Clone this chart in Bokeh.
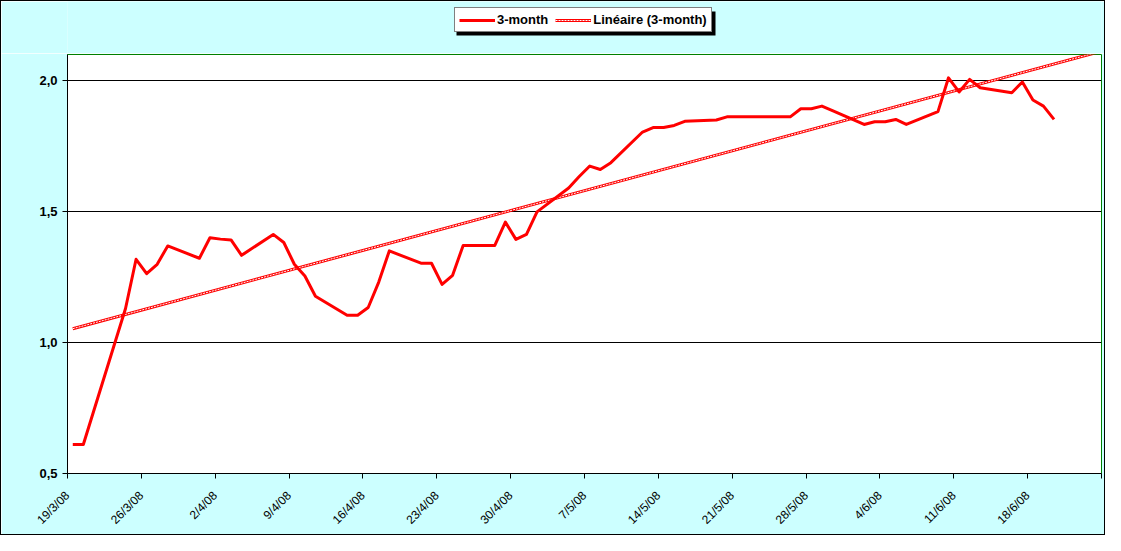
import pandas as pd
from bokeh.plotting import figure
from bokeh.layouts import column
from bokeh.models import Range1d, FixedTicker, Legend, LegendItem, ColumnDataSource, BoxAnnotation
from bokeh.embed import file_html
from bokeh.resources import INLINE

# ---------------- data ----------------
dates = [
    "2008-03-19", "2008-03-20", "2008-03-24", "2008-03-25", "2008-03-26", "2008-03-27",
    "2008-03-28", "2008-03-31", "2008-04-01", "2008-04-02", "2008-04-03", "2008-04-04",
    "2008-04-07", "2008-04-08", "2008-04-09", "2008-04-10", "2008-04-11", "2008-04-14",
    "2008-04-15", "2008-04-16", "2008-04-17", "2008-04-18", "2008-04-21", "2008-04-22",
    "2008-04-23", "2008-04-24", "2008-04-25", "2008-04-28", "2008-04-29", "2008-04-30",
    "2008-05-01", "2008-05-02", "2008-05-05", "2008-05-06", "2008-05-07", "2008-05-08",
    "2008-05-09", "2008-05-12", "2008-05-13", "2008-05-14", "2008-05-15", "2008-05-16",
    "2008-05-19", "2008-05-20", "2008-05-21", "2008-05-22", "2008-05-23", "2008-05-26",
    "2008-05-27", "2008-05-28", "2008-05-29", "2008-05-30", "2008-06-02", "2008-06-03",
    "2008-06-04", "2008-06-05", "2008-06-06", "2008-06-09", "2008-06-10", "2008-06-11",
    "2008-06-12", "2008-06-13", "2008-06-16", "2008-06-17", "2008-06-18", "2008-06-19",
    "2008-06-20",
]
values_3m = [
    0.611, 0.611, 1.130, 1.318, 1.263, 1.299,
    1.369, 1.322, 1.400, 1.395, 1.392, 1.333,
    1.413, 1.382, 1.299, 1.254, 1.177, 1.104,
    1.104, 1.134, 1.231, 1.350, 1.303, 1.303,
    1.222, 1.257, 1.371, 1.371, 1.460, 1.394,
    1.413, 1.499, 1.590, 1.634, 1.674, 1.661,
    1.687, 1.804, 1.821, 1.821, 1.829, 1.845,
    1.850, 1.862, 1.862, 1.862, 1.862, 1.862,
    1.893, 1.893, 1.903, 1.886, 1.833, 1.843,
    1.843, 1.852, 1.833, 1.882, 2.011, 1.957,
    2.005, 1.973, 1.954, 1.995, 1.926, 1.903,
    1.852,
]
trend_dates = ["2008-03-19", "2008-06-25"]
trend_values = [1.053, 2.118]

x_tick_dates = [
    "2008-03-19", "2008-03-26", "2008-04-02", "2008-04-09", "2008-04-16",
    "2008-04-23", "2008-04-30", "2008-05-07", "2008-05-14", "2008-05-21",
    "2008-05-28", "2008-06-04", "2008-06-11", "2008-06-18", "2008-06-25",
]
x_tick_labels = [
    "19/3/08", "26/3/08", "2/4/08", "9/4/08", "16/4/08",
    "23/4/08", "30/4/08", "7/5/08", "14/5/08", "21/5/08",
    "28/5/08", "4/6/08", "11/6/08", "18/6/08", "",
]
y_ticks = [0.5, 1.0, 1.5, 2.0]
y_tick_labels = ["0,5", "1,0", "1,5", "2,0"]
y_grid = [1.0, 1.5, 2.0]
series_name = "3-month"
trend_name = "Linéaire (3-month)"

# ---------------- styles ----------------
FONT = "Liberation Sans"
BG = "#CCFFFF"
RED = "#FF0000"
half_day = pd.Timedelta(hours=12)  # Excel date axis: points sit mid-day between ticks


def add_series(fig, src, tsrc):
    r1 = fig.line("x", "y", source=tsrc, line_color=RED, line_width=3)
    r2 = fig.line("x", "y", source=tsrc, line_color="white", line_width=1, line_dash="2 1")
    r3 = fig.line("x", "y", source=src, line_color=RED, line_width=3, line_join="round")
    return r3, r1, r2


src = ColumnDataSource(dict(x=pd.to_datetime(dates) + half_day, y=values_3m))
tsrc = ColumnDataSource(dict(x=pd.to_datetime(trend_dates) + half_day, y=trend_values))

# ---------------- main chart ----------------
p = figure(
    width=1103, height=481, x_axis_type="datetime",
    output_backend="svg", toolbar_location=None,
    x_range=Range1d(pd.Timestamp(x_tick_dates[0]), pd.Timestamp(x_tick_dates[-1])),
    y_range=Range1d(0.5, 2.1),
    min_border_left=66, min_border_right=3, min_border_top=1, min_border_bottom=60,
)
p.border_fill_color = BG
p.background_fill_color = "white"
p.outline_line_color = "#008000"
p.outline_line_width = 1

tick_ms = [pd.Timestamp(d).value / 1e6 for d in x_tick_dates]
p.xaxis.ticker = FixedTicker(ticks=tick_ms)
p.xaxis.major_label_overrides = {t: lab for t, lab in zip(tick_ms, x_tick_labels)}
p.xaxis.major_label_orientation = 0.785398
p.yaxis.ticker = FixedTicker(ticks=y_ticks)
p.yaxis.major_label_overrides = {t: lab for t, lab in zip(y_ticks, y_tick_labels)}
for ax in (p.xaxis, p.yaxis):
    ax.axis_line_color = "black"
    ax.axis_line_width = 1
    ax.major_tick_line_color = "black"
    ax.major_tick_out = 5
    ax.major_tick_in = 0
    ax.minor_tick_line_color = None
    ax.major_label_text_font = FONT
    ax.major_label_text_color = "black"
p.xaxis.major_label_text_font_size = "12px"
p.xaxis.major_label_standoff = 15
p.yaxis.major_label_text_font_size = "13px"
p.yaxis.major_label_text_font_style = "bold"
p.yaxis.major_label_standoff = 5

p.xgrid.grid_line_color = None
p.ygrid.ticker = FixedTicker(ticks=y_grid)
p.ygrid.grid_line_color = "black"
p.ygrid.grid_line_width = 1

add_series(p, src, tsrc)

# ---------------- legend strip (above the plot area) ----------------
top = figure(
    width=1103, height=52, output_backend="svg", toolbar_location=None,
    x_axis_location=None, y_axis_location=None,
    x_range=Range1d(0, 1), y_range=Range1d(0, 1),
    min_border_left=0, min_border_right=0, min_border_top=0, min_border_bottom=0,
)
top.border_fill_color = BG
top.background_fill_color = BG
top.outline_line_color = None
top.grid.grid_line_color = None
# same series drawn here only to supply legend swatches (data lies outside this strip's view)
l_main, l_t1, l_t2 = add_series(top, src, tsrc)

LEG_X, LEG_Y, LEG_W, LEG_H = 387, 21, 258, 23
shadow = BoxAnnotation(left=LEG_X + 2, right=LEG_X + LEG_W + 3,
                       bottom=LEG_Y - 3, top=LEG_Y + LEG_H - 2,
                       left_units="screen", right_units="screen",
                       top_units="screen", bottom_units="screen",
                       fill_color="black", fill_alpha=1, line_color=None)
top.add_layout(shadow)
legend = Legend(
    items=[LegendItem(label=series_name, renderers=[l_main]),
           LegendItem(label=trend_name, renderers=[l_t1, l_t2])],
    orientation="horizontal", location=(LEG_X, LEG_Y),
    border_line_color="black", border_line_width=1,
    background_fill_color="white", background_fill_alpha=1,
    label_text_font=FONT, label_text_font_size="13px", label_text_font_style="bold",
    label_text_color="black",
    padding=4, spacing=7, margin=0, glyph_width=36, glyph_height=14, label_height=14,
    label_standoff=2,
)
top.add_layout(legend, "center")

layout = column(top, p, spacing=0, styles={"border": "1px solid black"})

open("out.html", "w").write(file_html(layout, INLINE))
